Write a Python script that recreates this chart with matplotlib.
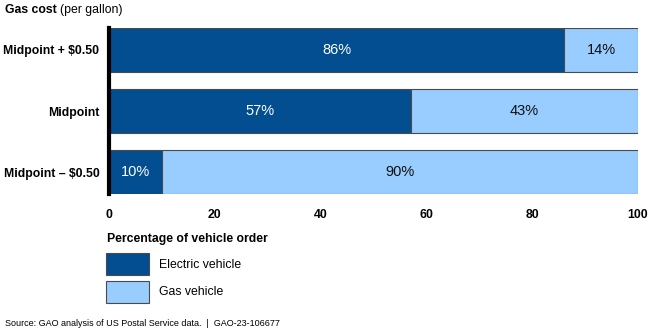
#!/usr/bin/env python3
# -*- coding: utf-8 -*-
"""Gas cost vs. vehicle order mix (GAO-23-106677) - stacked horizontal bars."""

import matplotlib
matplotlib.use("Agg")
import matplotlib.pyplot as plt

# ─── data ─────────────────────────────────────────────────────────────────────

scenarios = ["Midpoint + $0.50", "Midpoint", "Midpoint \u2013 $0.50"]
electric  = [86, 57, 10]
gas       = [14, 43, 90]
xticks    = [0, 20, 40, 60, 80, 100]

DARK  = "#034e91"
LIGHT = "#99ccff"
EDGE  = "#4a4a4a"

plt.rcParams["font.family"] = ["Liberation Sans", "DejaVu Sans"]

# ─── plot ─────────────────────────────────────────────────────────────────────

fig = plt.figure(figsize=(6.5, 3.29), dpi=100)
ax = fig.add_axes([109 / 650, 1 - 194 / 329, 529 / 650, 166 / 329])

pos = list(range(len(scenarios)))
h = 44 / 61
b1 = ax.barh(pos, electric, height=h, color=DARK, edgecolor=EDGE, lw=0.8,
             label="Electric vehicle")
b2 = ax.barh(pos, gas, left=electric, height=h, color=LIGHT, edgecolor=EDGE,
             lw=0.8, label="Gas vehicle")

for i, (e, g) in enumerate(zip(electric, gas)):
    ax.text(e / 2, i, f"{e}%", color="white", ha="center", va="center",
            fontsize=10.5)
    ax.text(e + g / 2, i, f"{g}%", color="#111111", ha="center", va="center",
            fontsize=10.5)

ax.set_xlim(0, 100)
ax.set_ylim(len(scenarios) - 1 + 0.36, -0.36)
ax.set_yticks(pos)
ax.set_yticklabels(scenarios, fontweight="bold", fontsize=8.8)
ax.set_xticks(xticks)
ax.set_xticklabels([str(t) for t in xticks], fontweight="bold", fontsize=8.8)
ax.tick_params(axis="both", length=0)
ax.tick_params(axis="x", pad=11)
ax.tick_params(axis="y", pad=7)

for s in ("top", "right", "bottom"):
    ax.spines[s].set_visible(False)
ax.spines["left"].set_linewidth(3)
ax.spines["left"].set_color("black")

ax.text(-0.004, -0.27, "Percentage of vehicle order", transform=ax.transAxes,
        fontweight="bold", fontsize=8.8, ha="left", va="center")

fig.legend(handles=[b1, b2], loc="upper left",
           bbox_to_anchor=(106 / 650, 1 - 253 / 329), frameon=False,
           fontsize=8.8, handlelength=3.5, handleheight=2.4,
           labelspacing=0.45, handletextpad=0.8, borderpad=0,
           borderaxespad=0)

# title: bold part + normal part
t1 = fig.text(5 / 650, 1 - 10 / 329, "Gas cost", fontweight="bold",
              fontsize=8.8, ha="left", va="center")
fig.canvas.draw()
bb = t1.get_window_extent()
fig.text((bb.x1 + 3) / 650, 1 - 10 / 329, "(per gallon)", fontsize=8.8,
         ha="left", va="center")

fig.text(5 / 650, 1 - 323 / 329,
         "Source: GAO analysis of US Postal Service data.  |  GAO-23-106677",
         fontsize=6.5, ha="left", va="center")

fig.savefig("out.png", dpi=100)
